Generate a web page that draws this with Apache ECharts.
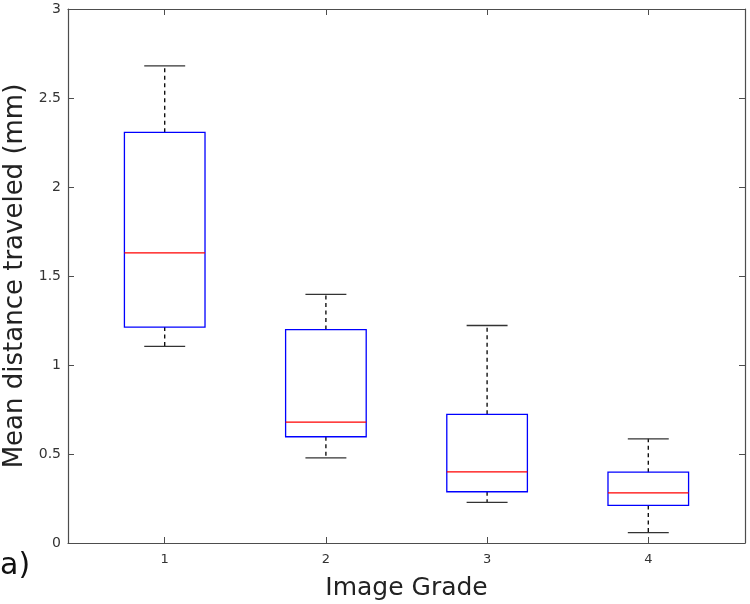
<!DOCTYPE html>
<html>
<head>
<meta charset="utf-8">
<script src="https://cdn.jsdelivr.net/npm/echarts@6/dist/echarts.min.js"></script>
<style>html,body{margin:0;padding:0;background:#fff;}#c{width:750px;height:604px;}</style>
</head>
<body>
<div id="c"></div>
<script>
var grades = [1, 2, 3, 4];
var whiskerLow  = [1.105, 0.478, 0.228, 0.058];
var q1          = [1.213, 0.597, 0.288, 0.211];
var median      = [1.630, 0.679, 0.400, 0.282];
var q3          = [2.307, 1.199, 0.723, 0.398];
var whiskerHigh = [2.681, 1.397, 1.222, 0.585];
var yTicks = [0, 0.5, 1, 1.5, 2, 2.5, 3];

var rows = grades.map(function (g, i) {
  return [g, whiskerLow[i], q1[i], median[i], q3[i], whiskerHigh[i]];
});

var axisColor = '#4d4d4d';
var labelColor = '#333';
var fontFam = 'DejaVu Sans';

function renderBox(params, api) {
  var x = api.value(0);
  var lo = api.value(1), a = api.value(2), m = api.value(3), b = api.value(4), hi = api.value(5);
  var halfBox = 0.25, halfCap = 0.127;
  var pLoL = api.coord([x - halfCap, lo]), pLoR = api.coord([x + halfCap, lo]);
  var pHiL = api.coord([x - halfCap, hi]), pHiR = api.coord([x + halfCap, hi]);
  var c = api.coord([x, 0]);
  var yLo = api.coord([x, lo])[1], yA = api.coord([x, a])[1], yM = api.coord([x, m])[1];
  var yB = api.coord([x, b])[1], yHi = api.coord([x, hi])[1];
  var bl = api.coord([x - halfBox, a])[0], br = api.coord([x + halfBox, a])[0];
  var cx = c[0];
  var dashed = {stroke: '#000', lineWidth: 1.3, lineDash: [4, 3.5]};
  var solid = {stroke: '#333', lineWidth: 1.3};
  return {
    type: 'group',
    children: [
      {type: 'line', shape: {x1: cx, y1: yB, x2: cx, y2: yHi}, style: dashed},
      {type: 'line', shape: {x1: cx, y1: yA, x2: cx, y2: yLo}, style: dashed},
      {type: 'line', shape: {x1: pHiL[0], y1: yHi, x2: pHiR[0], y2: yHi}, style: solid},
      {type: 'line', shape: {x1: pLoL[0], y1: yLo, x2: pLoR[0], y2: yLo}, style: solid},
      {type: 'rect', shape: {x: bl, y: yB, width: br - bl, height: yA - yB},
        style: {fill: null, stroke: '#0000ff', lineWidth: 1.3}},
      {type: 'line', shape: {x1: bl, y1: yM, x2: br, y2: yM}, style: {stroke: '#ff0000', lineWidth: 1.3}}
    ]
  };
}

var chart = echarts.init(document.getElementById('c'), null, {renderer: 'canvas'});
chart.setOption({
  backgroundColor: '#fff',
  animation: false,
  grid: {left: 68, right: 5, top: 9, bottom: 61, containLabel: false, outerBoundsMode: 'none'},
  graphic: [{
    type: 'text', left: 0, top: 551,
    style: {text: 'a)', font: '30px "DejaVu Sans"', fill: '#111'}
  }],
  xAxis: [{
    type: 'value', min: 0.4, max: 4.6, position: 'bottom',
    name: 'Image Grade', nameLocation: 'middle', nameGap: 33,
    nameTextStyle: {fontSize: 25, fontFamily: fontFam, color: '#222'},
    axisLine: {show: true, onZero: false, lineStyle: {color: axisColor, width: 1.2}},
    axisTick: {show: true, inside: true, length: 6, customValues: grades, lineStyle: {color: axisColor}},
    axisLabel: {show: true, customValues: grades, margin: 10, fontSize: 13, fontFamily: fontFam, color: labelColor},
    splitLine: {show: false}
  }, {
    type: 'value', min: 0.4, max: 4.6, position: 'top',
    axisLine: {show: true, onZero: false, lineStyle: {color: axisColor, width: 1.2}},
    axisTick: {show: true, inside: true, length: 6, customValues: grades, lineStyle: {color: axisColor}},
    axisLabel: {show: false},
    splitLine: {show: false}
  }],
  yAxis: [{
    type: 'value', min: 0, max: 3, interval: 0.5, position: 'left',
    name: 'Mean distance traveled (mm)', nameLocation: 'middle', nameGap: 38,
    nameTextStyle: {fontSize: 26, fontFamily: fontFam, color: '#222'},
    axisLine: {show: true, onZero: false, lineStyle: {color: axisColor, width: 1.2}},
    axisTick: {show: true, inside: true, length: 6, lineStyle: {color: axisColor}},
    axisLabel: {show: true, margin: 7, fontSize: 14, fontFamily: fontFam, color: labelColor,
      formatter: function (v) { return String(v); }},
    splitLine: {show: false}
  }, {
    type: 'value', min: 0, max: 3, interval: 0.5, position: 'right',
    axisLine: {show: true, onZero: false, lineStyle: {color: axisColor, width: 1.2}},
    axisTick: {show: true, inside: true, length: 6, lineStyle: {color: axisColor}},
    axisLabel: {show: false},
    splitLine: {show: false}
  }],
  series: [{
    type: 'custom',
    xAxisIndex: 0, yAxisIndex: 0,
    renderItem: renderBox,
    encode: {x: 0, y: [1, 2, 3, 4, 5]},
    data: rows,
    z: 10
  }]
});
</script>
</body>
</html>
